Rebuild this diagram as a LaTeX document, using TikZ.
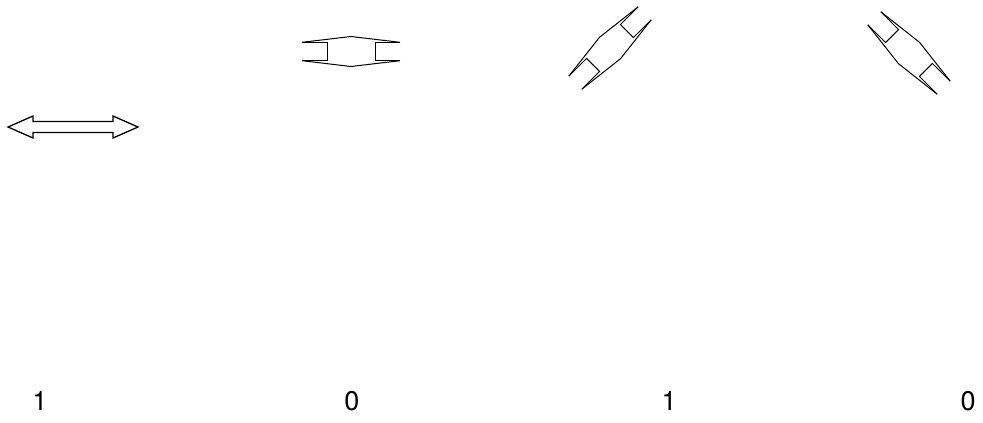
\documentclass[tikz,border=0pt]{standalone}
\usepackage{fontspec}
\setmainfont{TeX Gyre Heros}
\newfontfamily\labelfont{TeX Gyre Heros}
\usetikzlibrary{positioning}

\begin{document}
\begin{tikzpicture}[
  x=1pt,y=-1pt,
  outline/.style={draw,line width=1pt,line join=miter},
  digit/.style={font=\labelfont\fontsize{27}{30}\selectfont,inner sep=0pt,anchor=center},
  coupler/.pic={
    \draw[outline] (-49,-9.2) -- (0,-15) -- (49,-9.2);
    \draw[outline] (-49,9.2) -- (0,15) -- (49,9.2);
    \draw[outline] (-49,-9.2) -- (-24,-9.2) -- (-24,9.2) -- (-49,9.2);
    \draw[outline] (49,-9.2) -- (24,-9.2) -- (24,9.2) -- (49,9.2);
  }
]
\useasboundingbox (0,0) rectangle (983,423);

% double arrow
\draw[outline,line width=1.3pt] (8,127) -- (33,116) -- (33,121.5) -- (113,121.5)
  -- (113,116) -- (138,127) -- (113,138) -- (113,132.5) -- (33,132.5)
  -- (33,138) -- cycle;

% couplers
\pic at (351,51.5) {coupler};
\pic[rotate=45] at (610,48) {coupler};
\pic[rotate=-45] at (909,53) {coupler};

% values
\node[digit] (v1) at (40,401)  {1};
\node[digit] (v2) at (352,401) {0};
\node[digit] (v3) at (669,401) {1};
\node[digit] (v4) at (968,401) {0};
\end{tikzpicture}
\end{document}
